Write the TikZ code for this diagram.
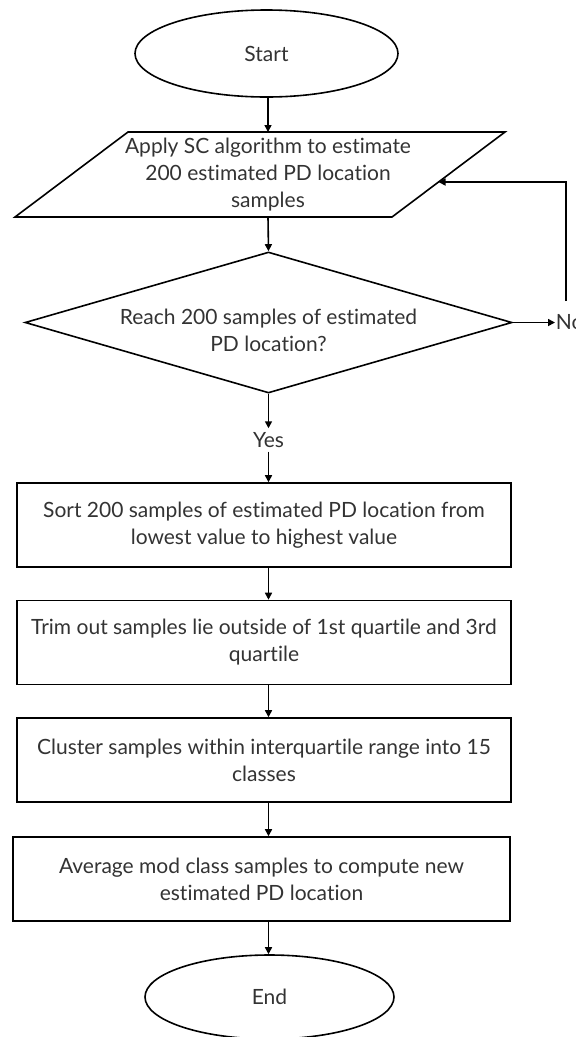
\documentclass[tikz,border=0pt]{standalone}
\usepackage{fontspec}
\setmainfont{Lato}[Ligatures={NoCommon}]
\usetikzlibrary{shapes.geometric,arrows.meta}
\definecolor{txtgray}{HTML}{333333}
\begin{document}
\begin{tikzpicture}[x=1pt,y=-1pt,
  line width=1.6pt,
  txt/.style={font=\fontsize{21}{27}\selectfont, text=txtgray, align=center},
  term/.style={draw, ellipse, minimum width=263pt, minimum height=87pt, inner sep=0pt, txt},
  proc/.style={draw, rectangle, minimum width=494pt, minimum height=84pt, inner sep=0pt, txt},
  dec/.style={draw, diamond, aspect=3.45, minimum width=487pt, minimum height=141pt, inner sep=0pt},
  arr/.style={-{Triangle[length=7pt,width=7pt]}, line width=1.6pt},
]
\useasboundingbox (0,0) rectangle (576,1037);

% Start
\node[term] (start) at (266.5,53.5) {Start};

% Parallelogram (input)
\coordinate (pTL) at (128,132);
\coordinate (pTR) at (505,132);
\coordinate (pBR) at (392,217);
\coordinate (pBL) at (15,217);
\draw (pTL) -- (pTR) -- (pBR) -- (pBL) -- cycle;
\node[txt] (para) at (268,175) {Apply SC algorithm to estimate\\200 estimated PD location\\samples};
\coordinate (ptop) at (268,132);
\coordinate (pbot) at (268,217);
\coordinate (pin) at (438.5,182);

% Decision
\node[dec] (dec) at (268.5,322.5) {};
\node[txt] (dectext) at (268.5,330) {Reach 200 samples of estimated\\PD location?};
\node[txt] (yes) at (268.5,440) {Yes};
\node[txt, anchor=west, inner sep=0pt] (no) at (555,322.5) {No};
\coordinate (fbbot) at (566,301);
\coordinate (fbtop) at (566,182);

% Process boxes
\node[proc] (b1) at (264,525) {Sort 200 samples of estimated PD location from\\lowest value to highest value};
\node[proc] (b2) at (264,642.5) {Trim out samples lie outside of 1st quartile and 3rd\\quartile};
\node[proc] (b3) at (264,760) {Cluster samples within interquartile range into 15\\classes};
\node[proc, minimum width=497pt] (b4) at (261.5,879) {Average mod class samples to compute new\\estimated PD location};

% End
\node[term, minimum width=249pt, minimum height=84pt] (end) at (269.5,997) {End};

% Connectors
\draw[arr] (start.south -| ptop) -- (ptop);
\draw[arr] (pbot) -- (dec.north);
\draw[arr] (dec.south) -- (yes.north);
\draw[arr] (yes.south) -- (b1.north -| yes);
\draw[arr] (b1.south -| yes) -- (b2.north -| yes);
\draw[arr] (b2.south -| yes) -- (b3.north -| yes);
\draw[arr] (b3.south -| yes) -- (b4.north -| yes);
\draw[arr] (b4.south -| yes) -- (end.north -| yes);
\draw[arr] (dec.east) -- (no.west);
\draw[arr] (fbbot) -- (fbtop) -- (pin);
\end{tikzpicture}
\end{document}
